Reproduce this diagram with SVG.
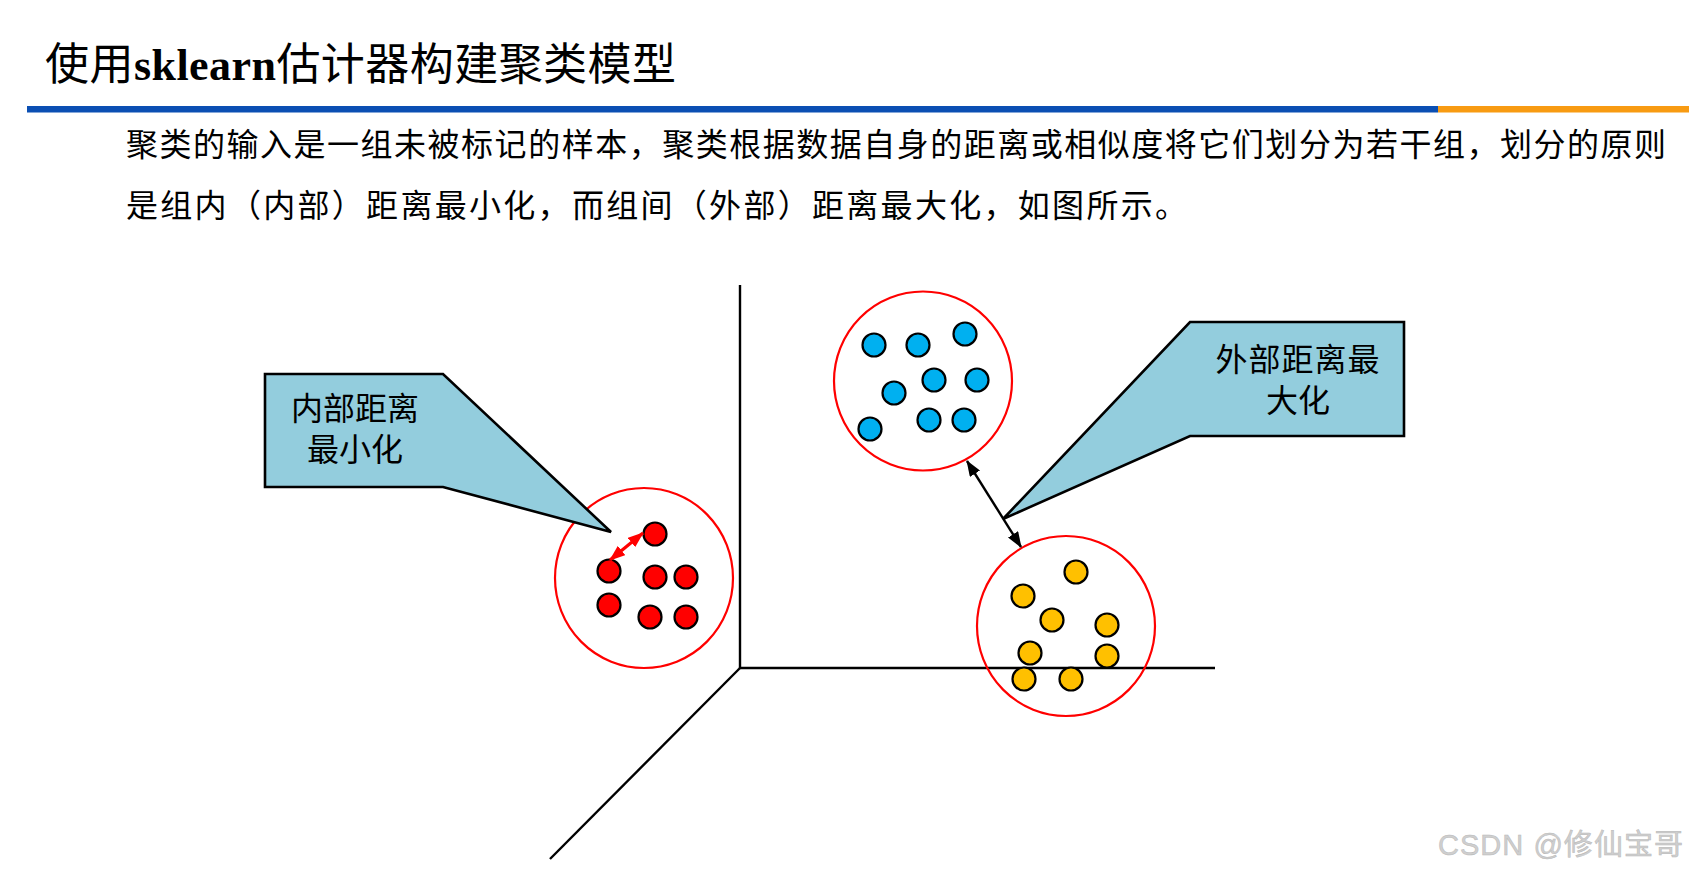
<svg xmlns="http://www.w3.org/2000/svg" width="1689" height="874" viewBox="0 0 1689 874">
  <style>
    .cjk { font-family: "Noto Sans CJK SC", "Liberation Sans", sans-serif; fill: #000; }
    .title { font-family: "Liberation Serif", "Noto Sans CJK SC", serif; font-size: 44px; fill: #000; }
    .para { font-size: 32px; }
    .call { font-family: "Liberation Sans", "Noto Sans CJK SC", sans-serif; font-size: 32px; text-anchor: middle; fill: #000; }
    .callout { fill: #93CDDD; stroke: #000; stroke-width: 2.6; stroke-linejoin: miter; }
    .ring { fill: none; stroke: #FF0000; stroke-width: 2.2; }
    .dot { stroke: #000; stroke-width: 2.2; }
    .red { fill: #FF0000; }
    .blue { fill: #00B0F0; }
    .yellow { fill: #FFC000; }
    .axis { stroke: #000; stroke-width: 2.4; fill: none; }
  </style>
  <defs>
    <marker id="headRed" markerUnits="userSpaceOnUse" viewBox="0 0 16 12" refX="15" refY="6" markerWidth="16" markerHeight="12" orient="auto-start-reverse">
      <path d="M0,0 L16,6 L0,12 Z" fill="#FF0000"/>
    </marker>
    <marker id="headBlack" markerUnits="userSpaceOnUse" viewBox="0 0 16 12" refX="15" refY="6" markerWidth="16" markerHeight="12" orient="auto-start-reverse">
      <path d="M0,0 L16,6 L0,12 Z" fill="#000"/>
    </marker>
  </defs>

  <rect x="0" y="0" width="1689" height="874" fill="#FFFFFF"/>

  <g id="header">
    <text class="title" x="45" y="80" textLength="631" lengthAdjust="spacing"><tspan font-family="Noto Sans CJK SC, sans-serif">使用</tspan><tspan font-weight="bold">sklearn</tspan><tspan font-family="Noto Sans CJK SC, sans-serif">估计器构建聚类模型</tspan></text>
    <rect x="27" y="106" width="1411" height="6.5" fill="#0B4FB3"/>
    <rect x="1438" y="106" width="251" height="6.5" fill="#F89B12"/>
  </g>

  <g id="paragraph">
    <text class="cjk para" x="126" y="156" textLength="1540" lengthAdjust="spacing">聚类的输入是一组未被标记的样本，聚类根据数据自身的距离或相似度将它们划分为若干组，划分的原则</text>
    <text class="cjk para" x="126" y="217" textLength="1061" lengthAdjust="spacing">是组内（内部）距离最小化，而组间（外部）距离最大化，如图所示。</text>
  </g>

  <g id="axes">
    <line class="axis" x1="740" y1="285" x2="740" y2="668"/>
    <line class="axis" x1="740" y1="668" x2="1215" y2="668"/>
    <line class="axis" x1="740" y1="668" x2="550" y2="859"/>
  </g>

  <g id="cluster-red">
    <ellipse class="ring" cx="644" cy="578" rx="89" ry="90"/>
    <circle class="dot red" cx="655" cy="534" r="11.5"/>
    <circle class="dot red" cx="609" cy="571" r="11.5"/>
    <circle class="dot red" cx="655" cy="577" r="11.5"/>
    <circle class="dot red" cx="686" cy="577" r="11.5"/>
    <circle class="dot red" cx="609" cy="605" r="11.5"/>
    <circle class="dot red" cx="650" cy="617" r="11.5"/>
    <circle class="dot red" cx="686" cy="617" r="11.5"/>
  </g>

  <g id="cluster-blue">
    <ellipse class="ring" cx="923" cy="381" rx="89" ry="89.5"/>
    <circle class="dot blue" cx="874" cy="345" r="11.5"/>
    <circle class="dot blue" cx="918" cy="345" r="11.5"/>
    <circle class="dot blue" cx="965" cy="334" r="11.5"/>
    <circle class="dot blue" cx="894" cy="393" r="11.5"/>
    <circle class="dot blue" cx="934" cy="380" r="11.5"/>
    <circle class="dot blue" cx="977" cy="380" r="11.5"/>
    <circle class="dot blue" cx="870" cy="429" r="11.5"/>
    <circle class="dot blue" cx="929" cy="420" r="11.5"/>
    <circle class="dot blue" cx="964" cy="420" r="11.5"/>
  </g>

  <g id="cluster-yellow">
    <ellipse class="ring" cx="1066" cy="626" rx="89" ry="90"/>
    <circle class="dot yellow" cx="1076" cy="572" r="11.5"/>
    <circle class="dot yellow" cx="1023" cy="596" r="11.5"/>
    <circle class="dot yellow" cx="1052" cy="620" r="11.5"/>
    <circle class="dot yellow" cx="1107" cy="625" r="11.5"/>
    <circle class="dot yellow" cx="1030" cy="653" r="11.5"/>
    <circle class="dot yellow" cx="1107" cy="656" r="11.5"/>
    <circle class="dot yellow" cx="1024" cy="679" r="11.5"/>
    <circle class="dot yellow" cx="1071" cy="679" r="11.5"/>
  </g>

  <g id="callout-inner">
    <polygon class="callout" points="265,374 443,374 611,532 443,487 265,487"/>
    <text class="call"><tspan x="355" y="420">内部距离</tspan><tspan x="355" y="461">最小化</tspan></text>
  </g>

  <g id="callout-outer">
    <polygon class="callout" points="1190,322 1404,322 1404,436 1190,436 1003,519"/>
    <text class="call"><tspan x="1298" y="371" letter-spacing="1">外部距离最</tspan><tspan x="1298" y="412">大化</tspan></text>
  </g>

  <g id="connectors">
    <line x1="610" y1="560" x2="643" y2="533" stroke="#FF0000" stroke-width="3.2" marker-start="url(#headRed)" marker-end="url(#headRed)"/>
    <line x1="967" y1="461" x2="1021" y2="547" stroke="#000" stroke-width="2.4" marker-start="url(#headBlack)" marker-end="url(#headBlack)"/>
  </g>

  <g id="watermark">
    <text x="1438" y="855" font-family="Liberation Sans, Noto Sans CJK SC, sans-serif" font-size="29" fill="#CFCFCF" stroke="#B8B8B8" stroke-width="0.5" textLength="245" lengthAdjust="spacing">CSDN @修仙宝哥</text>
  </g>
</svg>
